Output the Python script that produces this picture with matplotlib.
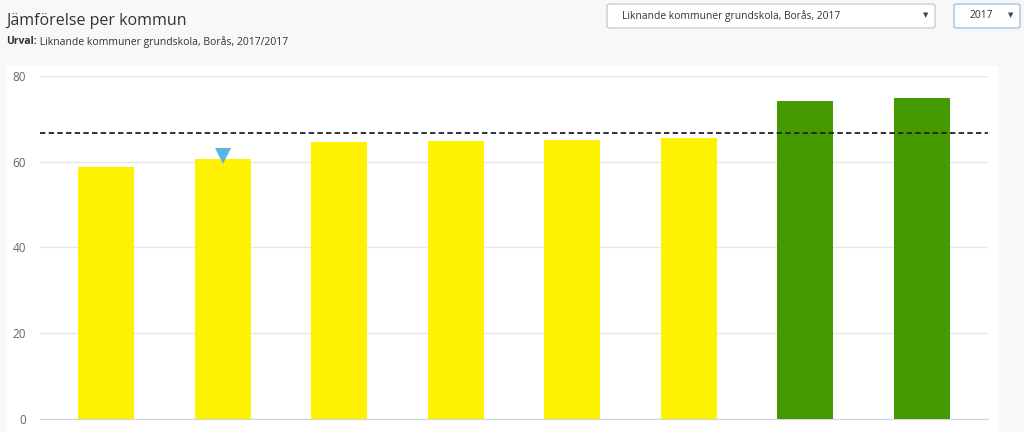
import matplotlib
matplotlib.use("Agg")
import matplotlib.pyplot as plt
from matplotlib.patches import Rectangle, FancyBboxPatch

# Values (municipality names are not shown)
kommuner = ["K1", "Borås", "K3", "K4", "K5", "K6", "K7", "K8"]
values = [58.7, 60.6, 64.6, 64.8, 65.1, 65.5, 74.1, 74.9]
bar_colors = ["#fff200"] * 6 + ["#459a00"] * 2
average = 66.7
marked = "Borås"
yticks = [0, 20, 40, 60, 80]

title = "Jämförelse per kommun"
urval_label = "Urval:"
urval_text = " Liknande kommuner grundskola, Borås, 2017/2017"
dropdown_main = "Liknande kommuner grundskola, Borås, 2017"
dropdown_year = "2017"

plt.rcParams["font.family"] = ["Open Sans", "DejaVu Sans"]

W, H = 1024, 432
fig = plt.figure(figsize=(W / 100, H / 100), dpi=100)
fig.patch.set_facecolor("#f8f8f8")


def px(x, y):
    # pixel coords (top-left origin) -> figure fraction
    return x / W, 1 - y / H


# white plot panel, kept behind the axes
fig.patches.append(Rectangle(px(7, 432), 991 / W, 366 / H, transform=fig.transFigure,
                             facecolor="white", edgecolor="none", zorder=-5))

ax = fig.add_axes([40 / W, 13 / H, 948 / W, 343 / H])
ax.set_zorder(3)
ax.set_facecolor("none")
x = list(range(len(kommuner)))
ax.bar(x, values, width=0.48, color=bar_colors, zorder=3)
ax.set_xlim(-0.57, len(kommuner) - 1 + 0.57)
ax.set_ylim(0, 80)
ax.set_yticks(yticks)
ax.set_xticks([])
ax.grid(axis="y", color="#e6e6e6", linewidth=1, zorder=0)
for s in ["top", "right", "left"]:
    ax.spines[s].set_visible(False)
ax.spines["bottom"].set_color("#ccd6eb")
ax.tick_params(axis="y", length=0, pad=10, labelsize=8.5, labelcolor="#666666")

ax.axhline(average, color="#222222", linewidth=1.3, linestyle=(0, (3, 1.8)), zorder=4)

mi = kommuner.index(marked)
ax.plot([mi], [values[mi] + 0.8], marker="v", markersize=11, color="#5cb3e6",
        markeredgewidth=0, zorder=5, clip_on=False)

# headings
fig.text(*px(6, 21), title, fontsize=11.5, color="#333333", va="center", ha="left")
t = fig.text(*px(6, 42), urval_label, fontsize=7.5, fontweight="bold",
             color="#333333", va="center", ha="left")
fig.canvas.draw()
bb = t.get_window_extent()
fig.text(bb.x1 / W, 1 - 42 / H, urval_text, fontsize=7.5, color="#333333",
         va="center", ha="left")

# dropdowns
for x0, x1, txt, ec in [(607, 935, dropdown_main, "#cccccc"),
                        (954, 1020, dropdown_year, "#9ec3e6")]:
    fig.patches.append(FancyBboxPatch(px(x0, 28), (x1 - x0) / W, 24 / H,
                                      boxstyle="round,pad=0,rounding_size=0.004",
                                      transform=fig.transFigure, facecolor="white",
                                      edgecolor=ec, linewidth=1, zorder=1))
    fig.text(*px(x0 + 15, 16), txt, fontsize=7.4, color="#333333", va="center", ha="left")
    fig.text(*px(x1 - 9, 15), "▼", fontsize=5, color="#444444", va="center",
             ha="center", family="DejaVu Sans")

fig.savefig("out.png", dpi=100, facecolor=fig.get_facecolor())
